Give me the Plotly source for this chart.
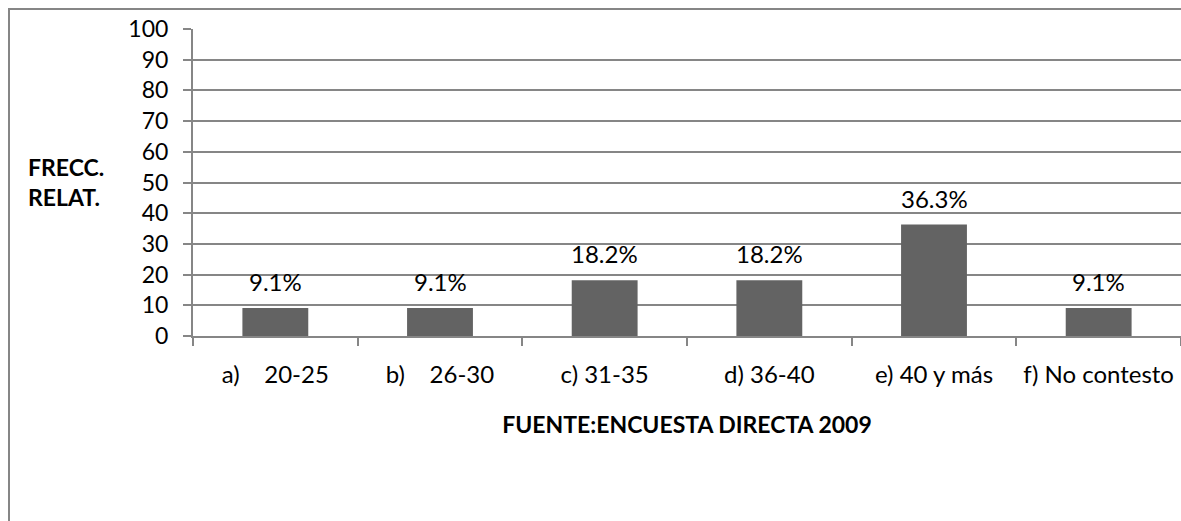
import plotly.graph_objects as go

NB = "\u00a0"
CATEGORIES = ["a)" + NB * 3 + " 20-25", "b)" + NB * 3 + " 26-30", "c) 31-35",
              "d) 36-40", "e) 40 y más", "f) No contesto"]
VALUES = [9.1, 9.1, 18.2, 18.2, 36.3, 9.1]
Y_TICKS = list(range(0, 101, 10))

FONT = "Lato, 'Open Sans', sans-serif"
GRID = "#868686"
BAR = "#636363"

# page body margin is removed below, so figure pixels = window pixels
W, H = 1181, 521
L, R, T, B = 193, 0, 29, 185
pw, ph = W - L - R, H - T - B


def px(x):
    return (x - L) / pw


def py(y):
    return 1 - (y - T) / ph


fig = go.Figure(go.Bar(
    x=CATEGORIES, y=VALUES, width=0.4, marker=dict(color=BAR, line=dict(width=0)),
    hoverinfo="skip"))

for c, v in zip(CATEGORIES, VALUES):
    fig.add_annotation(x=c, y=v, text=f"{v:.1f}%", showarrow=False,
                       yanchor="bottom", yshift=10,
                       font=dict(family=FONT, size=24, color="#000"))

# y-axis caption, horizontal at the left like the original
fig.add_annotation(xref="paper", yref="paper", x=px(26), y=py(151),
                   xanchor="left", yanchor="top",
                   text="<b>FRECC.<br>RELAT.</b>", align="left", showarrow=False,
                   font=dict(family=FONT, size=23, color="#000"))

# outer chart frame (continues past the right and bottom of the picture)
fig.add_shape(type="rect", xref="paper", yref="paper",
              x0=px(9), x1=px(W + 20), y0=py(H + 20), y1=py(9),
              line=dict(color=GRID, width=2), layer="below")

fig.update_xaxes(showgrid=False, showline=True, linecolor=GRID, linewidth=2,
                 ticks="outside", tickson="boundaries", ticklen=8,
                 tickcolor=GRID, tickwidth=2, ticklabelstandoff=16,
                 tickfont=dict(family=FONT, size=24, color="#000"),
                 title=dict(text="<b>FUENTE:ENCUESTA DIRECTA 2009</b>",
                            font=dict(family=FONT, size=23, color="#000"),
                            standoff=30))
fig.update_yaxes(range=[0, 100], tickvals=Y_TICKS, showgrid=True,
                 gridcolor=GRID, gridwidth=2, zeroline=False,
                 showline=True, linecolor=GRID, linewidth=2,
                 ticks="outside", ticklen=8, tickcolor=GRID, tickwidth=2,
                 ticklabelstandoff=10,
                 tickfont=dict(family=FONT, size=23, color="#000"))
fig.update_layout(width=W, height=H, margin=dict(l=L, r=R, t=T, b=B),
                  plot_bgcolor="white", paper_bgcolor="white",
                  showlegend=False, bargap=0.6)

fig.write_html("out.html", config={"displayModeBar": False},
               post_script="document.body.style.margin='0';"
                           "document.body.style.overflow='hidden';")
